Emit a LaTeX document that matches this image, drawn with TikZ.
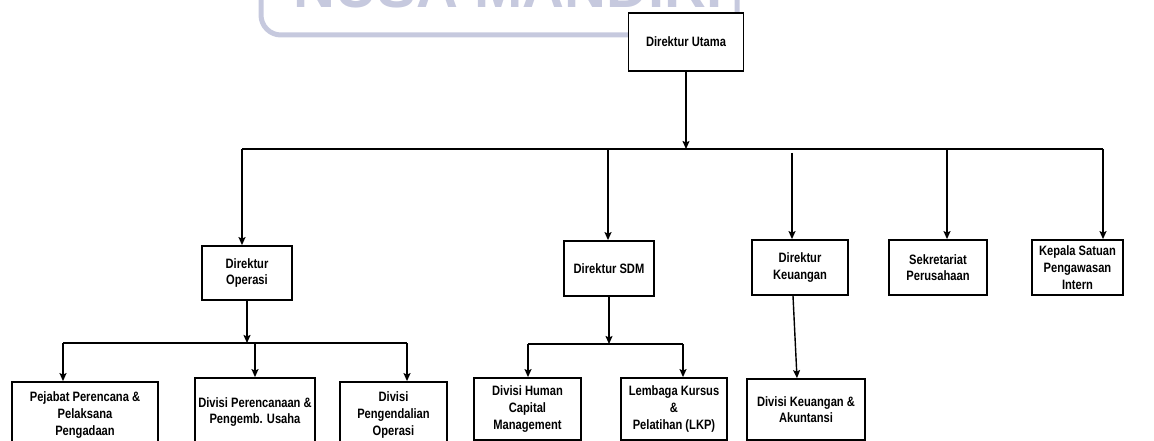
\documentclass[tikz,border=0pt]{standalone}
\usepackage{fontspec}
\setmainfont{Liberation Sans}[FakeStretch=0.82]
\newfontfamily\tandafont{Liberation Sans}
\usetikzlibrary{arrows.meta}
\definecolor{wm}{HTML}{C6C9DE}
\tikzset{
	kotak/.style={draw,line width=1.8pt,fill=white,align=center,inner sep=0pt,
		font=\bfseries\fontsize{13.6}{16.7}\selectfont},
	garis/.style={line width=1.4pt},
}
\begin{document}
\begin{tikzpicture}[>={Stealth[length=8pt,width=7pt,inset=1.5pt]},x=1pt,y=-1pt]
			\useasboundingbox (0,0) rectangle (1154,441);
			\clip (0,0) rectangle (1154,441);
			% watermark di atas
			\draw[wm,line width=5pt,rounded corners=20pt] (261,-40) rectangle (737,35);
			\node[anchor=base,text=wm,font=\tandafont\bfseries\fontsize{58}{58}\selectfont] (tanda) at (508,8) {NUSA MANDIRI};
			% baris direktur
			\node[kotak,minimum width=115pt,minimum height=58pt] (utama) at (686,42) {Direktur Utama};
			\node[kotak,minimum width=90pt,minimum height=54pt] (operasi) at (247,273) {Direktur\\Operasi};
			\node[kotak,minimum width=90pt,minimum height=55pt] (sdm) at (609,268.5) {Direktur SDM};
			\node[kotak,minimum width=96pt,minimum height=55pt] (keuangan) at (800,267.5) {Direktur\\Keuangan};
			\node[kotak,minimum width=98pt,minimum height=55pt] (sekretariat) at (938,267.5) {Sekretariat\\Perusahaan};
			\node[kotak,minimum width=91pt,minimum height=55pt] (spi) at (1077.5,267.5) {Kepala Satuan\\Pengawasan\\Intern};
			% baris divisi
			\node[kotak,minimum width=146pt,minimum height=66pt] (pejabat) at (85,415) {Pejabat Perencana \&\\Pelaksana\\Pengadaan};
			\node[kotak,minimum width=120pt,minimum height=68pt] (perencanaan) at (255,412) {Divisi Perencanaan \&\\Pengemb. Usaha};
			\node[kotak,minimum width=107pt,minimum height=66pt] (pengendalian) at (393.5,415) {Divisi\\Pengendalian\\Operasi};
			\node[kotak,minimum width=107pt,minimum height=62pt] (human) at (527.5,409) {Divisi Human\\Capital\\Management};
			\node[kotak,minimum width=106pt,minimum height=62pt] (lkp) at (674,409) {Lembaga Kursus\\\&\\Pelatihan (LKP)};
			\node[kotak,minimum width=118pt,minimum height=61pt] (akuntansi) at (806,409.5) {Divisi Keuangan \&\\Akuntansi};
			% garis utama
			\coordinate (kiri) at (242,149);
			\coordinate (kanan) at (1103,149);
			\coordinate (b2) at (608,149);
			\coordinate (b3) at (792,153);
			\coordinate (b4) at (947,149);
			\draw[garis,->] (utama) -- (utama |- kiri);
			\draw[garis] (kiri) -- (kanan);
			\draw[garis,->] (kiri) -- (kiri |- operasi.north);
			\draw[garis,->] (b2) -- (b2 |- sdm.north);
			\draw[garis,->] (b3) -- (b3 |- keuangan.north);
			\draw[garis,->] (b4) -- (b4 |- sekretariat.north);
			\draw[garis,->] (kanan) -- (kanan |- spi.north);
			% operasi
			\coordinate (op1) at (63,343);
			\coordinate (op2) at (407,343);
			\draw[line width=2.4pt,->] (operasi) -- (operasi |- op1);
			\draw[garis] (op1) -- (op2);
			\draw[garis,->] (op1) -- (op1 |- pejabat.north);
			\draw[garis,->] (perencanaan.north |- op1) -- (perencanaan.north);
			\draw[garis,->] (op2) -- (op2 |- pengendalian.north);
			% sdm
			\coordinate (sd1) at (528,344);
			\coordinate (sd2) at (683,344);
			\draw[garis,->] (sdm) -- (sdm |- sd1);
			\draw[garis] (sd1) -- (sd2);
			\draw[garis,->] (sd1) -- (sd1 |- human.north);
			\draw[garis,->] (sd2) -- (sd2 |- lkp.north);
			% keuangan
			\draw[garis,->] ([xshift=-7pt]keuangan.south) -- ([xshift=-9pt]akuntansi.north);
		\end{tikzpicture}
\end{document}
